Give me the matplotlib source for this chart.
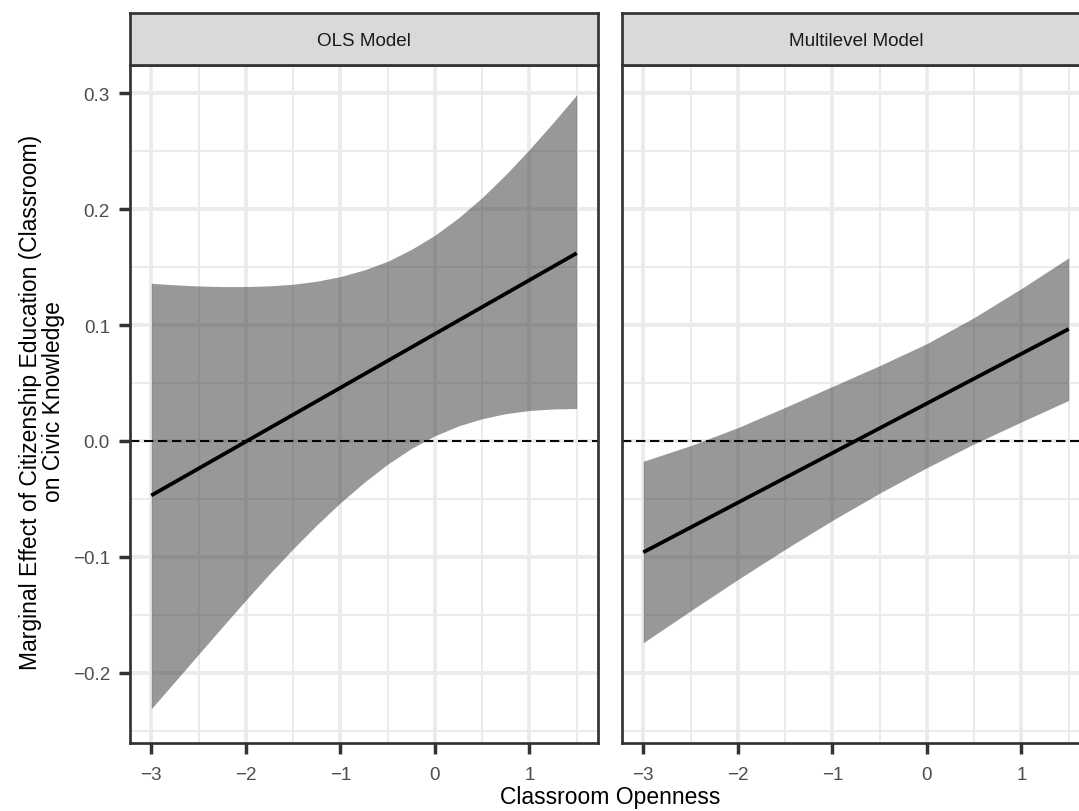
import matplotlib
matplotlib.use("Agg")
import matplotlib.pyplot as plt
from matplotlib.ticker import FixedLocator

plt.rcParams['font.family'] = ['Liberation Sans', 'DejaVu Sans']

# ---------------- data ----------------
panels = ["OLS Model", "Multilevel Model"]

ols_x = [-3, -2.75, -2.5, -2.25, -2, -1.75, -1.5, -1.25, -1, -0.75,
         -0.5, -0.25, 0, 0.25, 0.5, 0.75, 1, 1.25, 1.5]
ols_upper = [0.136, 0.1347, 0.1337, 0.1332, 0.1332, 0.1338, 0.1352, 0.1378, 0.1418, 0.1475,
             0.1550, 0.1652, 0.1775, 0.1925, 0.2100, 0.2298, 0.2515, 0.2745, 0.2985]
ols_lower = [-0.231, -0.2075, -0.184, -0.1605, -0.1373, -0.1147, -0.0930, -0.0725, -0.0533, -0.0358,
             -0.0200, -0.0065, 0.0045, 0.0130, 0.0192, 0.0236, 0.0263, 0.0276, 0.0280]
ols_line_x = [-3, 1.5]
ols_line_y = [-0.047, 0.162]

ml_x = [-3, -2.5, -2, -1.5, -1, -0.5, 0, 0.5, 1, 1.5]
ml_upper = [-0.0175, -0.004, 0.0115, 0.029, 0.047, 0.065, 0.084, 0.1065, 0.1315, 0.158]
ml_lower = [-0.174, -0.1465, -0.1195, -0.0935, -0.0685, -0.045, -0.023, -0.0025, 0.0165, 0.035]
ml_line_x = [-3, 1.5]
ml_line_y = [-0.096, 0.0966]

x_ticks = [-3, -2, -1, 0, 1]
x_tick_labels = ["\u22123", "\u22122", "\u22121", "0", "1"]
x_minor = [-2.5, -1.5, -0.5, 0.5, 1.5]
y_ticks = [-0.2, -0.1, 0.0, 0.1, 0.2, 0.3]
y_tick_labels = ["\u22120.2", "\u22120.1", "0.0", "0.1", "0.2", "0.3"]
y_minor = [-0.25, -0.15, -0.05, 0.05, 0.15, 0.25]

x_title = "Classroom Openness"
y_title = "Marginal Effect of Citizenship Education (Classroom)\non Civic Knowledge"

# ---------------- figure ----------------
W, H = 1079, 812
DPI = 100
fig = plt.figure(figsize=(W / DPI, H / DPI), dpi=DPI)

def fx(px):
    return px / W

def fy(py):
    return 1 - py / H

panel_top, panel_bot = 66, 744
strip_top = 14
panel_w = 468
lefts = [130, 622]

border_col = "#333333"
grid_col = "#EBEBEB"
xlim = (-3.225, 1.725)
ylim = (-0.2605, 0.3243)
tick_fs = 13.6
title_fs = 16.5

series = [
    (ols_x, ols_lower, ols_upper, ols_line_x, ols_line_y),
    (ml_x, ml_lower, ml_upper, ml_line_x, ml_line_y),
]

for i, (name, (bx, lo, up, lx, ly)) in enumerate(zip(panels, series)):
    left = lefts[i]
    ax = fig.add_axes([fx(left), fy(panel_bot), panel_w / W, (panel_bot - panel_top) / H])
    ax.set_xlim(*xlim)
    ax.set_ylim(*ylim)
    ax.set_axisbelow(True)
    ax.xaxis.set_major_locator(FixedLocator(x_ticks))
    ax.xaxis.set_minor_locator(FixedLocator(x_minor))
    ax.yaxis.set_major_locator(FixedLocator(y_ticks))
    ax.yaxis.set_minor_locator(FixedLocator(y_minor))
    ax.grid(which="major", color=grid_col, lw=2.7)
    ax.grid(which="minor", color=grid_col, lw=1.4)
    ax.set_xticklabels(x_tick_labels)
    ax.tick_params(which="major", length=7.9, width=2.5, color=border_col,
                   labelsize=tick_fs, labelcolor="#4D4D4D")
    ax.tick_params(axis="x", which="major", pad=8.5)
    ax.tick_params(axis="y", which="major", pad=6.5)
    ax.tick_params(which="minor", length=0)
    if i == 0:
        ax.set_yticklabels(y_tick_labels)
    else:
        ax.tick_params(axis="y", which="both", left=False, labelleft=False)
    for sp in ax.spines.values():
        sp.set_color(border_col)
        sp.set_linewidth(1.95)
        sp.set_zorder(5)

    ax.fill_between(bx, lo, up, color="#333333", alpha=0.5, lw=0, zorder=2)
    ax.axhline(0, color="black", lw=1.4, ls=(0, (4.8, 2.4)), zorder=3)
    ax.plot(lx, ly, color="black", lw=2.7, solid_capstyle="butt", zorder=4)

    # strip
    sax = fig.add_axes([fx(left), fy(panel_top), panel_w / W, (panel_top - strip_top) / H])
    sax.set_facecolor("#D9D9D9")
    sax.set_xticks([])
    sax.set_yticks([])
    for sp in sax.spines.values():
        sp.set_color(border_col)
        sp.set_linewidth(1.95)
    sax.text(0.5, 0.47, name, transform=sax.transAxes, ha="center", va="center",
             fontsize=tick_fs, color="#1A1A1A")

fig.text(fx(610), fy(798), x_title, ha="center", va="center", fontsize=title_fs, color="black")
fig.text(fx(42), fy(402), y_title, ha="center", va="center", rotation=90,
         fontsize=title_fs, color="black", linespacing=1.0, multialignment="center")

fig.savefig("out.png", dpi=DPI)
